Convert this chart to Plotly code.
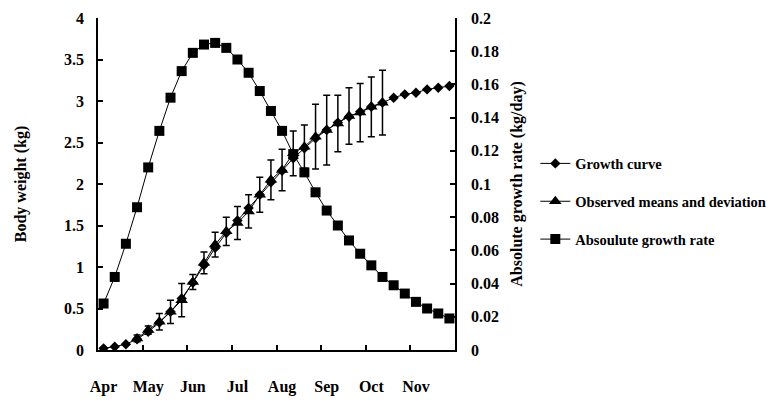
import plotly.graph_objects as go

# ---- data ----
months = ["Apr", "May", "Jun", "Jul", "Aug", "Sep", "Oct", "Nov"]
month_positions = [0, 4, 8, 12, 16, 20, 24, 28]
month_boundaries = [3.5, 7.5, 11.5, 15.5, 19.5, 23.5, 27.5]

period_index = list(range(32))

growth_curve = [0.02, 0.04, 0.07, 0.13, 0.22, 0.33, 0.46, 0.62, 0.81, 1.02,
                1.23, 1.41, 1.56, 1.71, 1.87, 2.02, 2.16, 2.31, 2.43, 2.55,
                2.65, 2.74, 2.81, 2.87, 2.93, 2.98, 3.04, 3.08, 3.10, 3.14,
                3.16, 3.18]

observed_index = list(range(3, 26))
observed_means = [0.14, 0.24, 0.34, 0.46, 0.60, 0.82, 1.05, 1.27, 1.43, 1.53,
                  1.67, 1.87, 2.05, 2.17, 2.37, 2.45, 2.57, 2.65, 2.73, 2.82,
                  2.86, 2.93, 2.98]
observed_sd = [0.04, 0.05, 0.10, 0.14, 0.20, 0.09, 0.13, 0.15, 0.17, 0.20,
               0.20, 0.21, 0.24, 0.25, 0.27, 0.26, 0.39, 0.42, 0.34, 0.34,
               0.35, 0.36, 0.39]

absolute_rate = [0.028, 0.044, 0.064, 0.086, 0.110, 0.132, 0.152, 0.168, 0.179, 0.184,
                 0.185, 0.182, 0.175, 0.167, 0.156, 0.144, 0.132, 0.118, 0.107, 0.095,
                 0.084, 0.075, 0.066, 0.058, 0.051, 0.044, 0.039, 0.034, 0.029, 0.025,
                 0.022, 0.019]

FONT = "Liberation Serif"

fig = go.Figure()

fig.add_trace(go.Scatter(
    x=period_index, y=growth_curve, name="Growth curve",
    mode="lines+markers", legendgroup="g1",
    line=dict(color="black", width=1),
    marker=dict(symbol="diamond", size=8, color="black"),
))

fig.add_trace(go.Scatter(
    x=observed_index, y=observed_means, name="Observed means and deviation",
    mode="lines+markers", legendgroup="g2",
    line=dict(color="black", width=1),
    marker=dict(symbol="triangle-up", size=11, color="black"),
    error_y=dict(type="data", array=observed_sd, visible=True,
                 color="black", thickness=1.5, width=3.5),
))

fig.add_trace(go.Scatter(
    x=period_index, y=absolute_rate, name="Absoulute growth rate",
    mode="lines+markers", legendgroup="g3", yaxis="y2",
    line=dict(color="black", width=1),
    marker=dict(symbol="square", size=10, color="black"),
))

# The page body has an 8px default margin, so the figure is 8px smaller
# than the window and the margins are shifted accordingly.
fig.update_layout(
    width=768, height=396,
    margin=dict(l=90, r=321, t=10, b=54, autoexpand=False),
    paper_bgcolor="white", plot_bgcolor="white",
    font=dict(family=FONT, color="black", size=16),
    xaxis=dict(
        range=[-0.5, 31.5], showgrid=False, zeroline=False,
        showline=True, linecolor="black", linewidth=1.5,
        tickmode="array", tickvals=month_positions, ticktext=months,
        ticks="", ticklabelstandoff=21,
        tickfont=dict(family=FONT, size=16, weight="bold"),
        minor=dict(tickmode="array", tickvals=month_boundaries, ticks="inside",
                   ticklen=5, tickcolor="black", tickwidth=1.5, showgrid=False),
    ),
    yaxis=dict(
        range=[0, 4], dtick=0.5, showgrid=False, zeroline=False,
        showline=True, linecolor="black", linewidth=1.5,
        ticks="inside", ticklen=5, tickcolor="black", tickwidth=1.5,
        ticklabelstandoff=9,
        tickfont=dict(family=FONT, size=16, weight="bold"),
        title=dict(text="Body weight (kg)", standoff=33,
                   font=dict(family=FONT, size=16, weight="bold")),
    ),
    yaxis2=dict(
        range=[0, 0.2], dtick=0.02, overlaying="y", side="right",
        showgrid=False, zeroline=False,
        showline=True, linecolor="black", linewidth=1.5,
        ticks="inside", ticklen=5, tickcolor="black", tickwidth=1.5,
        ticklabelstandoff=11,
        tickfont=dict(family=FONT, size=16, weight="bold"),
        title=dict(text="Absolute growth rate (kg/day)", standoff=13,
                   font=dict(family=FONT, size=16, weight="bold")),
    ),
    legend=dict(
        x=1.225, y=0.61, xanchor="left", yanchor="top",
        traceorder="grouped", tracegroupgap=16,
        font=dict(family=FONT, size=14.5, weight="bold"),
        bgcolor="rgba(0,0,0,0)",
    ),
    showlegend=True,
)

fig.write_html("out.html")
